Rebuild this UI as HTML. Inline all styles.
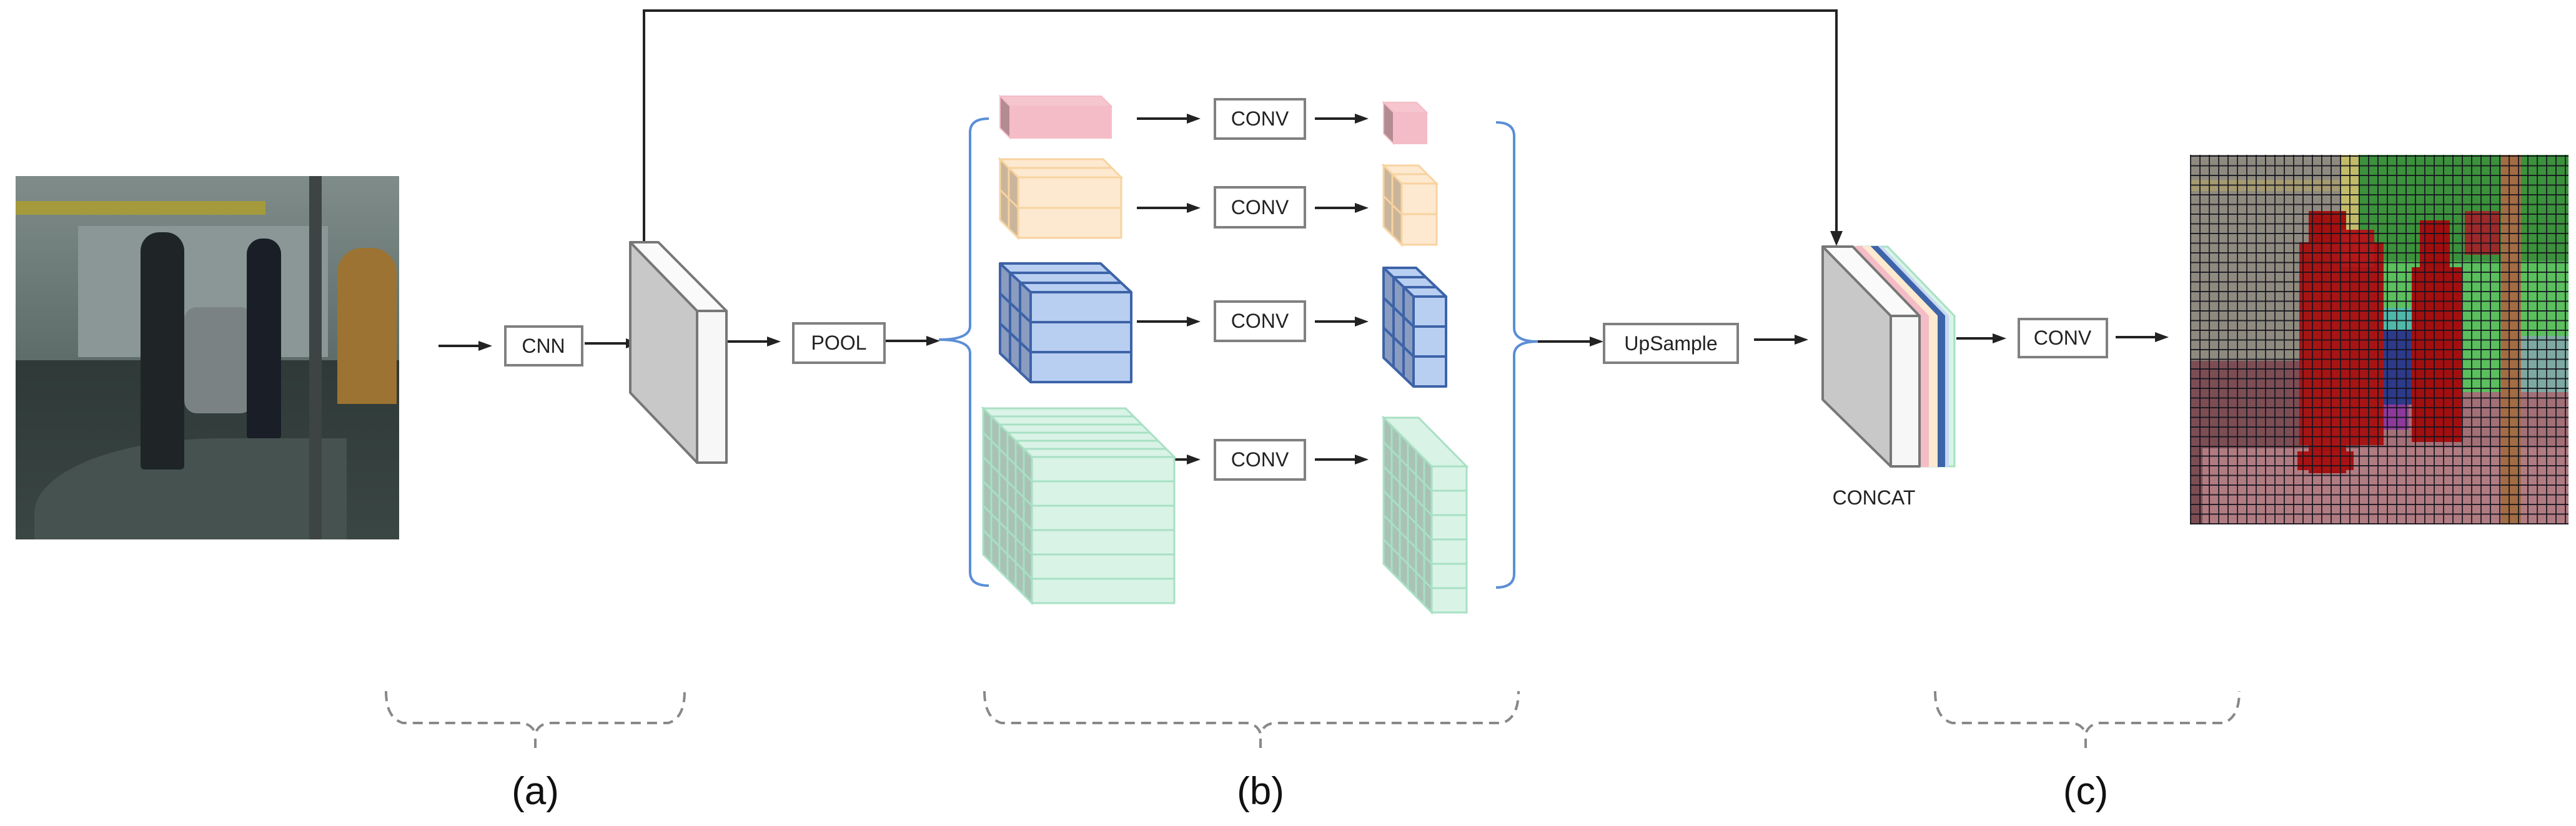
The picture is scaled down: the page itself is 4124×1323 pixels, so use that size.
<!DOCTYPE html>
<html><head><meta charset="utf-8"><style>
html,body{margin:0;padding:0;background:#fff;}
body{width:4124px;height:1323px;position:relative;overflow:hidden;font-family:"Liberation Sans",Arial,sans-serif;}
.abs{position:absolute;}
.grid{background-image:repeating-linear-gradient(90deg,rgba(20,20,30,.85) 0 2px,transparent 2px 15px),repeating-linear-gradient(0deg,rgba(20,20,30,.9) 0 2px,transparent 2px 15.5px);}
</style></head><body>

<!-- input photo -->
<div class="abs" style="left:25px;top:282px;width:614px;height:582px;background:#2f3b39;overflow:hidden;">
  <div class="abs" style="left:0;top:0;width:614px;height:300px;background:linear-gradient(#7f8c8a,#5d6c69);"></div>
  <div class="abs" style="left:0;top:40px;width:400px;height:22px;background:#a49a3c;"></div>
  <div class="abs" style="left:100px;top:80px;width:400px;height:210px;background:#8a9796;"></div>
  <div class="abs" style="left:0;top:295px;width:614px;height:287px;background:linear-gradient(#2f3a38,#3a4644);"></div>
  <div class="abs" style="left:30px;top:420px;width:500px;height:162px;background:#465250;border-top-left-radius:300px 120px;"></div>
  <div class="abs" style="left:515px;top:115px;width:95px;height:250px;background:#9c7332;border-radius:40px 40px 0 0;"></div>
  <div class="abs" style="left:470px;top:0;width:20px;height:590px;background:#3d4443;"></div>
  <div class="abs" style="left:200px;top:90px;width:70px;height:380px;background:#1f2527;border-radius:30px 30px 6px 6px;"></div>
  <div class="abs" style="left:270px;top:210px;width:110px;height:170px;background:#7b8284;border-radius:20px;"></div>
  <div class="abs" style="left:370px;top:100px;width:55px;height:320px;background:#1a1f27;border-radius:25px 25px 4px 4px;"></div>
</div>

<!-- segmentation output -->
<div class="abs" style="left:3506px;top:248px;width:606px;height:592px;background:#8d5c62;overflow:hidden;">
  <div class="abs" style="left:0;top:0;width:242px;height:330px;background:#8f8a7f;"></div>
  <div class="abs" style="left:0;top:40px;width:242px;height:18px;background:#a59a70;"></div>
  <div class="abs" style="left:242px;top:0;width:28px;height:170px;background:#c2bb6a;"></div>
  <div class="abs" style="left:270px;top:0;width:336px;height:170px;background:#3c913c;"></div>
  <div class="abs" style="left:270px;top:170px;width:336px;height:210px;background:#5bbf5e;"></div>
  <div class="abs" style="left:530px;top:290px;width:76px;height:90px;background:#7ea9a2;"></div>
  <div class="abs" style="left:0;top:330px;width:270px;height:262px;background:#7c4e54;"></div>
  <div class="abs" style="left:270px;top:380px;width:336px;height:212px;background:#a27076;"></div>
  <div class="abs" style="left:20px;top:470px;width:586px;height:122px;background:#b07c82;"></div>
  <div class="abs" style="left:498px;top:0;width:32px;height:592px;background:#a26c44;"></div>
  <div class="abs" style="left:285px;top:245px;width:100px;height:110px;background:#4fb8a8;"></div>
  <div class="abs" style="left:270px;top:280px;width:90px;height:120px;background:#2d3a8a;"></div>
  <div class="abs" style="left:305px;top:400px;width:45px;height:40px;background:#8c3a9a;"></div>
  <div class="abs" style="left:190px;top:90px;width:60px;height:420px;background:#a41010;"></div>
  <div class="abs" style="left:175px;top:140px;width:135px;height:325px;background:#a71414;"></div>
  <div class="abs" style="left:240px;top:120px;width:55px;height:60px;background:#b11818;"></div>
  <div class="abs" style="left:172px;top:475px;width:90px;height:30px;background:#a81212;"></div>
  <div class="abs" style="left:368px;top:105px;width:48px;height:80px;background:#a20e0e;"></div>
  <div class="abs" style="left:355px;top:180px;width:80px;height:280px;background:#a30f0f;"></div>
  <div class="abs" style="left:440px;top:90px;width:55px;height:70px;background:#9d2a2a;"></div>
  <div class="abs grid" style="left:0;top:0;width:606px;height:592px;"></div>
</div>

<svg class="abs" style="left:0;top:0" width="4124" height="1323" viewBox="0 0 4124 1323">
<!-- skip connection -->
<polyline points="1031,388 1031,17 2940,17 2940,372" fill="none" stroke="#222" stroke-width="4"/>
<polygon points="2930,370 2950,370 2940,394" fill="#222"/>

<!-- arrows -->
<g stroke="#222" stroke-width="4">
<line x1="702" y1="554" x2="768" y2="554"/>
<line x1="936" y1="550" x2="1004" y2="550"/>
<line x1="1165" y1="547" x2="1230" y2="547"/>
<line x1="1416" y1="546" x2="1485" y2="546"/>
<line x1="1820" y1="190" x2="1902" y2="190"/><line x1="2105" y1="190" x2="2171" y2="190"/>
<line x1="1820" y1="333" x2="1902" y2="333"/><line x1="2105" y1="333" x2="2171" y2="333"/>
<line x1="1820" y1="515" x2="1902" y2="515"/><line x1="2105" y1="515" x2="2171" y2="515"/>
<line x1="1873" y1="736" x2="1902" y2="736"/><line x1="2105" y1="736" x2="2171" y2="736"/>
<line x1="2462" y1="547" x2="2547" y2="547"/>
<line x1="2808" y1="544" x2="2875" y2="544"/>
<line x1="3132" y1="542" x2="3192" y2="542"/>
<line x1="3387" y1="540" x2="3452" y2="540"/>
</g>
<g fill="#222">
<polygon points="766,546 788,554 766,562"/>
<polygon points="1002,542 1024,550 1002,558"/>
<polygon points="1228,539 1250,547 1228,555"/>
<polygon points="1483,538 1505,546 1483,554"/>
<polygon points="1900,182 1922,190 1900,198"/><polygon points="2169,182 2191,190 2169,198"/>
<polygon points="1900,325 1922,333 1900,341"/><polygon points="2169,325 2191,333 2169,341"/>
<polygon points="1900,507 1922,515 1900,523"/><polygon points="2169,507 2191,515 2169,523"/>
<polygon points="1900,728 1922,736 1900,744"/><polygon points="2169,728 2191,736 2169,744"/>
<polygon points="2545,539 2567,547 2545,555"/>
<polygon points="2873,536 2895,544 2873,552"/>
<polygon points="3190,534 3212,542 3190,550"/>
<polygon points="3450,532 3472,540 3450,548"/>
</g>

<!-- boxes -->
<g fill="#fff" stroke="#808080" stroke-width="4">
<rect x="809" y="523" width="123" height="62"/>
<rect x="1270" y="518" width="146" height="63"/>
<rect x="1945" y="159" width="144" height="63"/>
<rect x="1945" y="300" width="144" height="64"/>
<rect x="1945" y="483" width="144" height="63"/>
<rect x="1945" y="705" width="144" height="63"/>
<rect x="2568" y="519" width="214" height="62"/>
<rect x="3232" y="511" width="141" height="61"/>
</g>
<g font-family="Liberation Sans, Arial, sans-serif" font-size="32" fill="#222" text-anchor="middle">
<text x="870" y="565">CNN</text>
<text x="1343" y="560">POOL</text>
<text x="2017" y="201">CONV</text>
<text x="2017" y="343">CONV</text>
<text x="2017" y="525">CONV</text>
<text x="2017" y="747">CONV</text>
<text x="2675" y="561">UpSample</text>
<text x="3302" y="552">CONV</text>
<text x="3000" y="808">CONCAT</text>
</g>

<!-- CNN feature slab -->
<g stroke="#777" stroke-width="4" stroke-linejoin="round">
<polygon points="1009,388 1116,498 1116,741 1009,629" fill="#c8c8c8"/>
<polygon points="1009,388 1054,388 1163,498 1116,498" fill="#fafafa"/>
<rect x="1116" y="498" width="47" height="243" fill="#f7f7f7"/>
</g>

<!-- concat slab -->
<g stroke-linejoin="round">
<polygon points="2974,395 3022,395 3129,506 3129,747 3027,747 3027,506" fill="#d9f3e6" stroke="#a8e0c4" stroke-width="3"/>
<polygon points="2964,395 3012,395 3119,506 3119,747 3027,747 3027,506" fill="#c7d7f3" stroke="#c7d7f3" stroke-width="2"/>
<polygon points="2958,395 3006,395 3113,506 3113,747 3027,747 3027,506" fill="#3d63a8" stroke="#3d63a8" stroke-width="2"/>
<polygon points="2946,395 2994,395 3101,506 3101,747 3027,747 3027,506" fill="#fde9cf" stroke="#fde9cf" stroke-width="2"/>
<polygon points="2932,395 2980,395 3087,506 3087,747 3027,747 3027,506" fill="#f4bcc6" stroke="#f4bcc6" stroke-width="2"/>
<polygon points="2918,395 2966,395 3073,506 3027,506" fill="#fafafa" stroke="#777" stroke-width="4"/>
<rect x="3027" y="506" width="46" height="241" fill="#f7f7f7" stroke="#777" stroke-width="4"/>
<polygon points="2918,395 3027,506 3027,747 2918,640" fill="#c8c8c8" stroke="#777" stroke-width="4"/>
</g>

<!-- blue braces -->
<g fill="none" stroke="#5b8fd6" stroke-width="4">
<path d="M1583,190 Q1553,190 1553,212 L1553,522 Q1553,544 1503,544 Q1553,544 1553,566 L1553,916 Q1553,938 1583,938"/>
<path d="M2395,196 Q2424,196 2424,218 L2424,525 Q2424,547 2462,547 Q2424,547 2424,569 L2424,919 Q2424,941 2395,941"/>
</g>

<!-- pink blocks -->
<g stroke-width="2">
<polygon points="1601,154 1763,154 1779,170 1617,170" fill="#f6c6cf" stroke="#f4bcc6"/>
<polygon points="1601,154 1617,170 1617,221 1601,205" fill="#b38b93" stroke="#f4bcc6"/>
<rect x="1617" y="170" width="162" height="51" fill="#f4bcc6" stroke="#f4bcc6"/>
<polygon points="2215,164 2268,164 2284,180 2231,180" fill="#f6c6cf" stroke="#f4bcc6"/>
<polygon points="2215,164 2231,180 2231,230 2215,214" fill="#b38b93" stroke="#f4bcc6"/>
<rect x="2231" y="180" width="53" height="50" fill="#f4bcc6" stroke="#f4bcc6"/>
</g>

<!-- orange blocks -->
<g stroke="#f8d3a0" stroke-width="3">
<polygon points="1601,255 1766,255 1795,284 1630,284" fill="#fde9cf"/>
<polygon points="1601,255 1630,284 1630,381 1601,352" fill="#c9b59b"/>
<line x1="1615" y1="269" x2="1615" y2="366"/><line x1="1601" y1="304" x2="1630" y2="333"/>
<line x1="1615" y1="269" x2="1780" y2="269"/>
<rect x="1630" y="284" width="165" height="97" fill="#fde9cf"/>
<line x1="1630" y1="333" x2="1795" y2="333"/>
<polygon points="2215,265 2271,265 2300,294 2244,294" fill="#fde9cf"/>
<polygon points="2215,265 2244,294 2244,392 2215,363" fill="#c9b59b"/>
<line x1="2229" y1="279" x2="2229" y2="377"/><line x1="2215" y1="314" x2="2244" y2="343"/>
<line x1="2229" y1="279" x2="2285" y2="279"/>
<rect x="2244" y="294" width="56" height="98" fill="#fde9cf"/>
<line x1="2244" y1="343" x2="2300" y2="343"/>
</g>

<!-- blue blocks -->
<g stroke="#3d63a8" stroke-width="4" stroke-linejoin="round">
<polygon points="1601,422 1762,422 1811,468 1650,468" fill="#b9cff2"/>
<polygon points="1601,422 1650,468 1650,612 1601,566" fill="#8a9cc0"/>
<line x1="1617" y1="437" x2="1617" y2="581"/><line x1="1633" y1="453" x2="1633" y2="597"/>
<line x1="1601" y1="470" x2="1650" y2="516"/><line x1="1601" y1="518" x2="1650" y2="564"/>
<line x1="1617" y1="437" x2="1778" y2="437"/><line x1="1633" y1="453" x2="1794" y2="453"/>
<rect x="1650" y="468" width="161" height="144" fill="#b9cff2"/>
<line x1="1650" y1="516" x2="1811" y2="516"/><line x1="1650" y1="564" x2="1811" y2="564"/>
<polygon points="2215,429 2267,429 2315,475 2263,475" fill="#b9cff2"/>
<polygon points="2215,429 2263,475 2263,619 2215,573" fill="#8a9cc0"/>
<line x1="2231" y1="444" x2="2231" y2="588"/><line x1="2247" y1="460" x2="2247" y2="604"/>
<line x1="2215" y1="477" x2="2263" y2="523"/><line x1="2215" y1="525" x2="2263" y2="571"/>
<line x1="2231" y1="444" x2="2283" y2="444"/><line x1="2247" y1="460" x2="2299" y2="460"/>
<rect x="2263" y="475" width="52" height="144" fill="#b9cff2"/>
<line x1="2263" y1="523" x2="2315" y2="523"/><line x1="2263" y1="571" x2="2315" y2="571"/>
</g>

<!-- green blocks -->
<g stroke="#a8e0c4" stroke-width="3">
<polygon points="1574,654 1802,654 1880,732 1652,732" fill="#d9f3e6"/>
<polygon points="1574,654 1652,732 1652,966 1574,888" fill="#a9c2b5"/>
<line x1="1587" y1="667" x2="1587" y2="901"/><line x1="1600" y1="680" x2="1600" y2="914"/><line x1="1613" y1="693" x2="1613" y2="927"/><line x1="1626" y1="706" x2="1626" y2="940"/><line x1="1639" y1="719" x2="1639" y2="953"/>
<line x1="1574" y1="693" x2="1652" y2="771"/><line x1="1574" y1="732" x2="1652" y2="810"/><line x1="1574" y1="771" x2="1652" y2="849"/><line x1="1574" y1="810" x2="1652" y2="888"/><line x1="1574" y1="849" x2="1652" y2="927"/>
<line x1="1587" y1="667" x2="1815" y2="667"/><line x1="1600" y1="680" x2="1828" y2="680"/><line x1="1613" y1="693" x2="1841" y2="693"/><line x1="1626" y1="706" x2="1854" y2="706"/><line x1="1639" y1="719" x2="1867" y2="719"/>
<rect x="1652" y="732" width="228" height="234" fill="#d9f3e6"/>
<line x1="1652" y1="771" x2="1880" y2="771"/><line x1="1652" y1="810" x2="1880" y2="810"/><line x1="1652" y1="849" x2="1880" y2="849"/><line x1="1652" y1="888" x2="1880" y2="888"/><line x1="1652" y1="927" x2="1880" y2="927"/>
<polygon points="2215,669 2271,669 2348,747 2292,747" fill="#d9f3e6"/>
<polygon points="2215,669 2292,747 2292,981 2215,903" fill="#a9c2b5"/>
<line x1="2228" y1="682" x2="2228" y2="916"/><line x1="2241" y1="695" x2="2241" y2="929"/><line x1="2254" y1="708" x2="2254" y2="942"/><line x1="2267" y1="721" x2="2267" y2="955"/><line x1="2280" y1="734" x2="2280" y2="968"/>
<line x1="2215" y1="708" x2="2292" y2="786"/><line x1="2215" y1="747" x2="2292" y2="825"/><line x1="2215" y1="786" x2="2292" y2="864"/><line x1="2215" y1="825" x2="2292" y2="903"/><line x1="2215" y1="864" x2="2292" y2="942"/>
<rect x="2292" y="747" width="56" height="234" fill="#d9f3e6"/>
<line x1="2292" y1="786" x2="2348" y2="786"/><line x1="2292" y1="825" x2="2348" y2="825"/><line x1="2292" y1="864" x2="2348" y2="864"/><line x1="2292" y1="903" x2="2348" y2="903"/><line x1="2292" y1="942" x2="2348" y2="942"/>
</g>

<!-- dashed braces -->
<g fill="none" stroke="#888" stroke-width="4" stroke-dasharray="16 10">
<path d="M618,1107 Q618,1150 645,1158 L835,1158 Q852,1160 857,1175 Q862,1160 879,1158 L1070,1158 Q1096,1150 1096,1107"/>
<path d="M1576,1107 Q1576,1150 1603,1158 L1996,1158 Q2013,1160 2018,1175 Q2023,1160 2040,1158 L2405,1158 Q2431,1150 2431,1107"/>
<path d="M3098,1107 Q3098,1150 3125,1158 L3317,1158 Q3334,1160 3339,1175 Q3344,1160 3361,1158 L3559,1158 Q3585,1150 3585,1107"/>
</g>
<g stroke="#888" stroke-width="4">
<line x1="857" y1="1183" x2="857" y2="1198"/><line x1="2018" y1="1183" x2="2018" y2="1198"/><line x1="3339" y1="1183" x2="3339" y2="1198"/>
</g>
<g font-family="Liberation Sans, Arial, sans-serif" font-size="62" fill="#111" text-anchor="middle">
<text x="857" y="1288">(a)</text>
<text x="2018" y="1288">(b)</text>
<text x="3339" y="1288">(c)</text>
</g>
</svg>
</body></html>
